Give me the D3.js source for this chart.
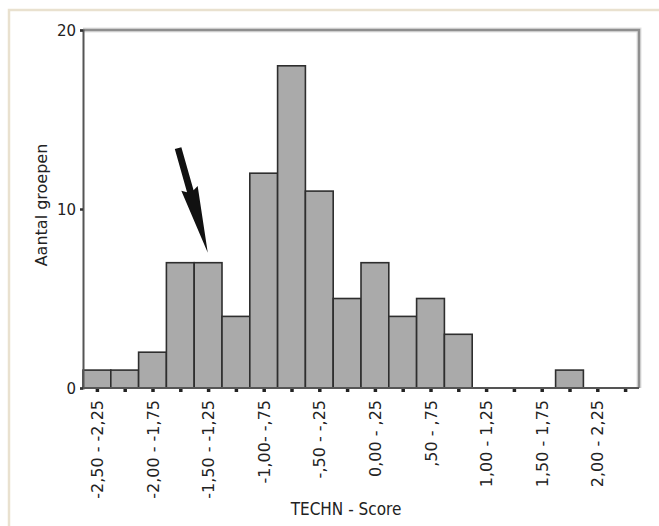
<!DOCTYPE html>
<html><head><meta charset="utf-8">
<script src="https://cdn.jsdelivr.net/npm/d3@7"></script>
<style>body{margin:0;background:#fff}svg{display:block}</style>
</head><body>
<script>
const binStarts = [-2.50,-2.25,-2.00,-1.75,-1.50,-1.25,-1.00,-0.75,-0.50,-0.25,0.00,0.25,0.50,0.75,1.00,1.25,1.50,1.75,2.00,2.25];
const counts    = [1,1,2,7,7,4,12,18,11,5,7,4,5,3,0,0,0,1,0,0];
const binLabels = ["-2,50 - -2,25","","-2,00 - -1,75","","-1,50 - -1,25","","-1,00- -,75","","-,50 - -,25","","0,00 - ,25","",",50 - ,75","","1,00 - 1,25","","1,50 - 1,75","","2,00 - 2,25",""];
const yTicks = [0,10,20];
const binWidth = 0.25;
const xTitle = "TECHN - Score";
const yTitle = "Aantal groepen";
// arrow annotation in data units: tail and tip
const arrowTail = [-1.645, 13.4];
const arrowTip  = [-1.378, 7.55];

const W=659,H=526;
const svg=d3.select("body").append("svg").attr("width",W).attr("height",H);
svg.append("rect").attr("width",W).attr("height",H).attr("fill","#fff");
// outer beige frame
svg.append("path").attr("d",`M9,${H}V10H${W}`).attr("fill","none").attr("stroke","#e9e1cf").attr("stroke-width",2.5);

const L=83,R=639,T=30,B=388;
const x=d3.scaleLinear().domain([-2.5,2.5]).range([L,R]);
const y=d3.scaleLinear().domain([0,20]).range([B,T]);

// frame top/right shadowed
svg.append("path").attr("d",`M${L},${T}H${R}V${B}`).attr("fill","none").attr("stroke","#e2e2e2").attr("stroke-width",5);
svg.append("path").attr("d",`M${L},${T}H${R}V${B}`).attr("fill","none").attr("stroke","#8f8f8f").attr("stroke-width",2.5);

// bars
svg.append("g").selectAll("rect").data(counts.map((c,i)=>({c,s:binStarts[i]})).filter(d=>d.c>0))
 .join("rect")
 .attr("x",d=>x(d.s)).attr("width",d=>x(d.s+binWidth)-x(d.s))
 .attr("y",d=>y(d.c)).attr("height",d=>y(0)-y(d.c))
 .attr("fill","#aaaaaa").attr("stroke","#2e2e2e").attr("stroke-width",1.6);

// x axis line
svg.append("line").attr("x1",L).attr("x2",R).attr("y1",B).attr("y2",B).attr("stroke","#555").attr("stroke-width",2);
// y axis
const yAxis=d3.axisLeft(y).tickValues(yTicks).tickSize(3).tickFormat(d3.format("d"));
const gy=svg.append("g").attr("transform",`translate(${L},0)`).call(yAxis);
gy.select(".domain").attr("stroke","#555").attr("stroke-width",2);
gy.selectAll(".tick line").attr("stroke","#333").attr("stroke-width",2.5);
gy.selectAll(".tick text").attr("font-family","DejaVu Sans").attr("font-size",15).attr("fill","#222").attr("x",-7).attr("dy","0.34em");

// x tick dots and labels at bin centers
const centers=binStarts.map(s=>s+binWidth/2);
const xAxis=d3.axisBottom(x).tickValues(centers).tickSize(3).tickFormat((d,i)=>binLabels[i]);
const gx=svg.append("g").attr("transform",`translate(0,${B})`).call(xAxis);
gx.select(".domain").remove();
gx.selectAll(".tick line").attr("stroke","#222").attr("stroke-width",3.5).attr("y1",1).attr("y2",4);
gx.selectAll(".tick text").attr("font-family","DejaVu Sans").attr("font-size",16).attr("fill","#222")
  .attr("transform","rotate(-90)").attr("text-anchor","end").attr("x",-12).attr("y",0).attr("dy","0.35em");

// titles
svg.append("text").attr("x",346).attr("y",515).attr("text-anchor","middle")
 .attr("font-family","'DejaVu Sans Condensed', 'Liberation Sans Narrow', 'Liberation Sans', sans-serif")
 .attr("font-stretch","condensed").attr("font-size",17).attr("fill","#222").text(xTitle);
svg.append("text").attr("transform",`translate(47,${(B+T)/2-4}) rotate(-90)`).attr("text-anchor","middle")
 .attr("font-family","DejaVu Sans").attr("font-size",16).attr("fill","#222").text(yTitle);

// arrow
const tx=x(arrowTail[0]),ty=y(arrowTail[1]),hx=x(arrowTip[0]),hy=y(arrowTip[1]);
const ang=Math.atan2(hy-ty,hx-tx), len=Math.hypot(hx-tx,hy-ty);
const headLen=64, shaftW=3.4, headW=8.5;
const g=svg.append("g").attr("transform",`translate(${tx},${ty}) rotate(${ang*180/Math.PI})`);
g.append("path").attr("d",`M0,${-shaftW}L${len-headLen},${-shaftW}L${len-headLen-3},${-headW}L${len},0L${len-headLen-3},${headW}L${len-headLen},${shaftW}L0,${shaftW}Z`).attr("fill","#111");
</script>
</body></html>
